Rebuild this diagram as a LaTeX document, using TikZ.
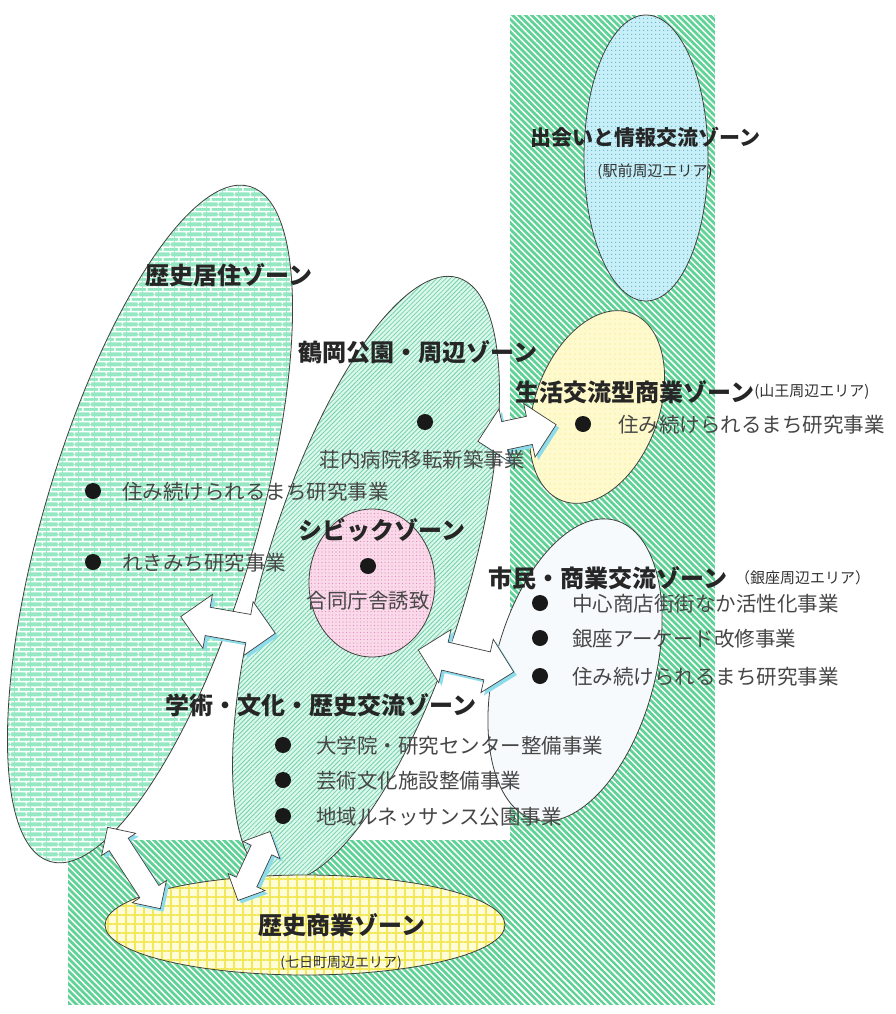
\documentclass[tikz,border=0pt]{standalone}
\usepackage{fontspec}
\newfontfamily\jp{Noto Sans CJK JP}
\usetikzlibrary{patterns,patterns.meta,shapes.arrows,shadows}
\definecolor{colgreen}{RGB}{95,210,150}
\definecolor{mint}{RGB}{150,232,195}
\definecolor{midfill}{RGB}{220,248,236}
\definecolor{midline}{RGB}{115,210,170}
\definecolor{bluefill}{RGB}{200,238,246}
\definecolor{bluedot}{RGB}{90,185,220}
\definecolor{yelfill}{RGB}{255,250,205}
\definecolor{yeldot}{RGB}{235,225,120}
\definecolor{whitefill}{RGB}{246,250,252}
\definecolor{pinkfill}{RGB}{250,218,232}
\definecolor{pinkdot}{RGB}{225,140,200}
\definecolor{gridfill}{RGB}{255,253,215}
\definecolor{gridline}{RGB}{242,232,90}
\definecolor{shcol}{RGB}{140,220,235}
\tikzdeclarepattern{
  name=brickz,
  type=uncolored,
  bounding box={(0pt,0pt) and (16pt,10pt)},
  tile size={(16pt,10pt)},
  code={
    \draw[line width=1.6pt] (0pt,2.5pt) -- (16pt,2.5pt);
    \draw[line width=1.6pt] (0pt,7.5pt) -- (16pt,7.5pt);
    \draw[line width=1.6pt] (4pt,2.5pt) -- (4pt,7.5pt);
    \draw[line width=1.6pt] (12pt,7.5pt) -- (12pt,10pt);
    \draw[line width=1.6pt] (12pt,0pt) -- (12pt,2.5pt);
  }
}
\tikzset{
  zone/.style={draw=black!75, line width=0.8pt},
  hd/.style={font=\jp\bfseries\fontsize{24}{26}\selectfont, text=black!85, inner sep=0pt, anchor=west},
  it/.style={font=\jp\fontsize{20.5}{22}\selectfont, text=black!72, inner sep=0pt, anchor=west},
  sm/.style={font=\jp\fontsize{15}{17}\selectfont, text=black!80, inner sep=0pt},
  dot/.style={circle, fill=black!90, minimum size=16pt, inner sep=0pt},
  barr/.style={shape=double arrow, draw=black!75, line width=0.7pt, fill=white,
     minimum width=0pt, double arrow head extend=13pt, inner xsep=0pt, inner ysep=14pt,
     drop shadow={fill=shcol, opacity=1, shadow xshift=3pt, shadow yshift=-3pt}},
  sbarr/.style={barr, inner ysep=11pt, double arrow head extend=9pt},
}
\begin{document}
\begin{tikzpicture}[x=1pt,y=-1pt]
\useasboundingbox (0,0) rectangle (895,1014);
\fill[white] (0,0) rectangle (895,1014);
% green striped background
\fill[colgreen] (510,15) rectangle (715,1005);
\fill[colgreen] (68,840) rectangle (715,1005);
\fill[pattern={Lines[angle=-45,distance=4.5pt,line width=1.5pt]}, pattern color=white] (510,15) rectangle (715,1005);
\fill[pattern={Lines[angle=-45,distance=4.5pt,line width=1.5pt]}, pattern color=white] (68,840) rectangle (715,1005);
% left ellipse (bricks)
\path[fill=mint, rotate around={73.5:(150,524)}] (150,524) ellipse [x radius=352pt, y radius=106pt];
\path[pattern=brickz, pattern color=white, rotate around={73.5:(150,524)}] (150,524) ellipse [x radius=352pt, y radius=106pt];
\draw[zone, rotate around={73.5:(150,524)}] (150,524) ellipse [x radius=352pt, y radius=106pt];
% middle ellipse
\path[fill=midfill, rotate around={73:(366,579)}] (366,579) ellipse [x radius=315pt, y radius=101pt];
\path[pattern={Lines[angle=45,distance=3.2pt,line width=0.8pt]}, pattern color=midline, rotate around={73:(366,579)}] (366,579) ellipse [x radius=315pt, y radius=101pt];
\draw[zone, rotate around={73:(366,579)}] (366,579) ellipse [x radius=315pt, y radius=101pt];
% top ellipse
\path[fill=bluefill] (646,158) ellipse [x radius=62pt, y radius=143pt];
\path[pattern={Dots[distance=4pt,radius=0.8pt]}, pattern color=bluedot] (646,158) ellipse [x radius=62pt, y radius=143pt];
\draw[zone] (646,158) ellipse [x radius=62pt, y radius=143pt];
% yellow ellipse
\path[fill=yelfill, rotate around={70:(597,407)}] (597,407) ellipse [x radius=100pt, y radius=62pt];
\path[pattern={Dots[distance=5pt,radius=0.6pt]}, pattern color=yeldot, rotate around={70:(597,407)}] (597,407) ellipse [x radius=100pt, y radius=62pt];
\draw[zone, rotate around={70:(597,407)}] (597,407) ellipse [x radius=100pt, y radius=62pt];
% white ellipse
\draw[zone, fill=whitefill, rotate around={75:(575,670)}] (575,670) ellipse [x radius=155pt, y radius=80pt];
% pink ellipse
\path[fill=pinkfill] (372,583) ellipse [x radius=63pt, y radius=74pt];
\path[pattern={Dots[distance=3.5pt,radius=0.7pt]}, pattern color=pinkdot] (372,583) ellipse [x radius=63pt, y radius=74pt];
\draw[zone] (372,583) ellipse [x radius=63pt, y radius=74pt];
% bottom ellipse
\path[fill=gridfill] (305,925) ellipse [x radius=200pt, y radius=50pt];
\path[pattern={Hatch[angle=0,distance=9pt,line width=1.3pt]}, pattern color=gridline] (305,925) ellipse [x radius=200pt, y radius=50pt];
\draw[zone] (305,925) ellipse [x radius=200pt, y radius=50pt];
% arrows
\node[barr, minimum height=80pt, rotate=12] (a1) at (517,433) {};
\node[barr, minimum height=96pt, rotate=-10] (a2) at (228,625) {};
\node[barr, minimum height=98pt, rotate=-13] (a3) at (466,661) {};
\node[sbarr, minimum height=97pt, rotate=-57] (a4) at (134,868) {};
\node[sbarr, minimum height=76pt, rotate=65] (a5) at (254,866) {};
% texts
\node[hd, font=\jp\bfseries\fontsize{21}{23}\selectfont] (t1) at (530,137) {出会いと情報交流ゾーン};
\node[sm] (t1s) at (655,172) {(駅前周辺エリア)};
\node[hd] (t2) at (145,275) {歴史居住ゾーン};
\node[hd] (t3) at (298,352) {鶴岡公園・周辺ゾーン};
\node[hd] (t4) at (515,392) {生活交流型商業ゾーン};
\node[sm, anchor=west] (t4s) at (t4.east) {(山王周辺エリア)};
\node[dot] (b1) at (425,422) {};
\node[it, anchor=center] (i1) at (422,460) {荘内病院移転新築事業};
\node[dot] (b2) at (583,424) {};
\node[it] (i2) at (618,425) {住み続けられるまち研究事業};
\node[dot] (b3) at (93,491) {};
\node[it] (i3) at (122,492) {住み続けられるまち研究事業};
\node[dot] (b4) at (93,562) {};
\node[it] (i4) at (122,563) {れきみち研究事業};
\node[hd] (t5) at (298,530) {シビックゾーン};
\node[dot] (b5) at (368,566) {};
\node[it, anchor=center] (i5) at (368,601) {合同庁舎誘致};
\node[hd] (t6) at (488,578) {市民・商業交流ゾーン};
\node[sm, anchor=west] (t6s) at (735,578) {（銀座周辺エリア）};
\node[dot] (b6) at (540,603) {};
\node[it] (i6) at (572,604) {中心商店街街なか活性化事業};
\node[dot] (b7) at (540,638) {};
\node[it] (i7) at (572,639) {銀座アーケード改修事業};
\node[dot] (b8) at (540,676) {};
\node[it] (i8) at (572,677) {住み続けられるまち研究事業};
\node[hd] (t7) at (165,705) {学術・文化・歴史交流ゾーン};
\node[dot] (b9) at (283,745) {};
\node[it] (i9) at (316,746) {大学院・研究センター整備事業};
\node[dot] (b10) at (283,780) {};
\node[it] (i10) at (316,781) {芸術文化施設整備事業};
\node[dot] (b11) at (283,816) {};
\node[it] (i11) at (316,817) {地域ルネッサンス公園事業};
\node[hd, anchor=center] (t8) at (342,925) {歴史商業ゾーン};
\node[sm, font=\jp\fontsize{14}{16}\selectfont] (t8s) at (341,963) {(七日町周辺エリア)};
\end{tikzpicture}
\end{document}
